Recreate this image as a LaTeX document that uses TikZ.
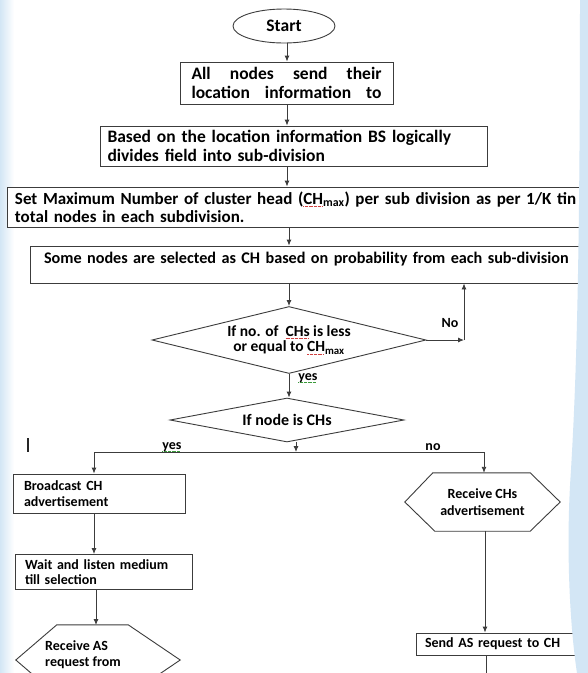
\documentclass[tikz,border=0pt]{standalone}
\usepackage{fontspec}
\setmainfont{Carlito}
\usetikzlibrary{arrows.meta,shapes.geometric}
\definecolor{ln}{HTML}{3C3C3C}
\definecolor{bandblue}{HTML}{D3E6F5}
\definecolor{sqred}{HTML}{D04040}
\definecolor{sqgreen}{HTML}{3A9A3A}
\newsavebox\sqbox
\newcommand\sqline[2]{\leavevmode\sbox\sqbox{#2}\rlap{\raisebox{-0.3ex}{\textcolor{#1}{\leaders\hbox{\rule{0.8pt}{0.5pt}\hspace{0.5pt}}\hskip\wd\sqbox}}}\usebox\sqbox}
\begin{document}
\begin{tikzpicture}[x=1pt,y=-1pt,
  box/.style={draw=ln, line width=0.9pt, fill=white, text=black, inner sep=0pt,
    font=\bfseries\fontsize{17.5}{18.5}\selectfont},
  lowfont/.style={font=\bfseries\fontsize{14}{16}\selectfont},
  arr/.style={draw=ln, line width=0.9pt, -{Latex[length=6pt,width=5pt]}},
  lbl/.style={text=black, inner sep=0pt, font=\bfseries\fontsize{14}{16}\selectfont},
]
\useasboundingbox (0,0) rectangle (588,673);
\clip (0,0) rectangle (588,673);
\fill[white] (0,0) rectangle (588,673);
\shade[left color=bandblue, right color=white] (0,0) rectangle (14,673);

% coordinates for connector columns
\coordinate (ax) at (287,0);
\coordinate (bx) at (289,0);
\coordinate (fb) at (464,340);
\coordinate (jm) at (296,452);
\coordinate (jl) at (94,452);
\coordinate (jr) at (484,452);
\coordinate (rtop) at (96,625);
\coordinate (sx) at (485,0);
\coordinate (send) at (486,690);

% nodes
\node[box, ellipse, minimum width=102pt, minimum height=34pt] (start) at (284,26) {Start};
\node[box, minimum width=213pt, minimum height=42pt, align=center] (n2) at (286.5,83)
  {\makebox[190pt][s]{All nodes send their}\\\makebox[190pt][s]{location information to}};
\node[box, minimum width=387pt, minimum height=40pt, text width=372pt, align=left] (n3) at (293.5,146)
  {\makebox[372pt][s]{Based on the location information BS logically}\\divides field into sub-division};
\node[box, minimum height=40pt, text width=617pt, inner xsep=8pt, align=left,
  font=\bfseries\fontsize{17}{18}\selectfont] (n4) at (323.5,207)
  {Set Maximum Number of cluster head (\sqline{sqred}{CH}\textsubscript{max}) per sub division as per 1/K tin\\total nodes in each subdivision.};
\node[box, text width=582pt, inner xsep=14pt, text height=17pt, text depth=20pt, align=left,
  font=\bfseries\fontsize{16.2}{18}\selectfont] (n5) at (335,264.5)
  {Some nodes are selected as CH based on probability from each sub-division};
\node[box, diamond, shape aspect=4.09, minimum width=274pt, minimum height=67pt, align=center,
  font=\bfseries\fontsize{15.5}{15.5}\selectfont] (d1) at (289,340)
  {If no. of\ \ \sqline{sqred}{CHs} is less\\or equal to \sqline{sqred}{CH}\textsubscript{max}};
\node[box, diamond, shape aspect=5.3, minimum width=234pt, minimum height=44pt,
  font=\bfseries\fontsize{16}{18}\selectfont] (d2) at (287,420) {If node is CHs};
\node[box, lowfont, minimum width=172pt, minimum height=39pt, text width=150pt, align=left] (bc) at (99,493.5)
  {Broadcast CH\\advertisement};
\node[box, minimum width=177pt, minimum height=35pt, text width=157pt, align=left,
  font=\bfseries\fontsize{14}{15.5}\selectfont] (wl) at (103.5,572)
  {\makebox[153pt][s]{Wait and listen medium}\\till selection};
\node[lbl, minimum width=155pt, minimum height=58pt, align=center, font=\bfseries\fontsize{14}{17}\selectfont] (rc) at (482.5,502)
  {Receive CHs\\advertisement};
\draw[ln, line width=0.9pt] (rc.west) -- ([xshift=28pt]rc.north west) -- ([xshift=-30pt]rc.north east)
  -- (rc.east) -- ([xshift=-30pt]rc.south east) -- ([xshift=30pt]rc.south west) -- cycle;
\node[inner sep=0pt, minimum width=164pt, minimum height=70pt] (ras) at (98,660) {};
\draw[ln, line width=0.9pt] (ras.west) -- ([xshift=41pt]ras.north west) -- ([xshift=-52pt]ras.north east)
  -- (ras.east) -- ([xshift=-52pt]ras.south east) -- ([xshift=41pt]ras.south west) -- cycle;
\node[lbl, align=left, anchor=west] (rast) at (45,655) {Receive AS\\request from};
\node[box, lowfont, minimum height=22pt, text width=166pt, inner xsep=9pt, align=left] (sr) at (508,644)
  {Send AS request to CH};

% connectors
\draw[arr] (start.south -| ax) -- (n2.north -| ax);
\draw[arr] (n2.south -| ax) -- (n3.north -| ax);
\draw[arr] (n3.south -| ax) -- (n4.north -| ax);
\draw[arr] (n4.south -| bx) -- (n5.north -| bx);
\draw[arr] (n5.south -| bx) -- (d1.north);
\draw[arr] (d1.south) -- (d2.north -| d1.south);
\draw[arr] (d1.east) -- (fb);
\draw[arr] (fb) -- (n5.south -| fb);
\draw[arr] (d2.south -| jm) -- (jm);
\draw[ln, line width=0.9pt] (jl) -- (jr);
\draw[arr] (jl) -- (bc.north -| jl);
\draw[arr] (jr) -- (rc.north -| jr);
\draw[arr] (bc.south -| jl) -- (wl.north -| jl);
\draw[arr] (wl.south -| rtop) -- (rtop);
\draw[arr] (rc.south -| sx) -- (sr.north -| sx);
\draw[ln, line width=0.9pt] (sr.south -| send) -- (send);

% labels
\node[lbl] (lno) at (450,323) {No};
\node[lbl] (lyes1) at (308,378) {\sqline{sqgreen}{yes}};
\node[lbl] (lyes2) at (172,447) {\sqline{sqgreen}{yes}};
\node[lbl] (lno2) at (433,447) {no};
\draw[black!85, line width=1.3pt] (28,438) -- (28,452);

% right edge background band
\fill[bandblue] (580,0) -- (588,0) -- (588,673) -- (577,673)
  .. controls (569,620) and (566,540) .. (571,470) .. controls (575,400) and (580,300) .. (580,0) -- cycle;
\end{tikzpicture}
\end{document}
